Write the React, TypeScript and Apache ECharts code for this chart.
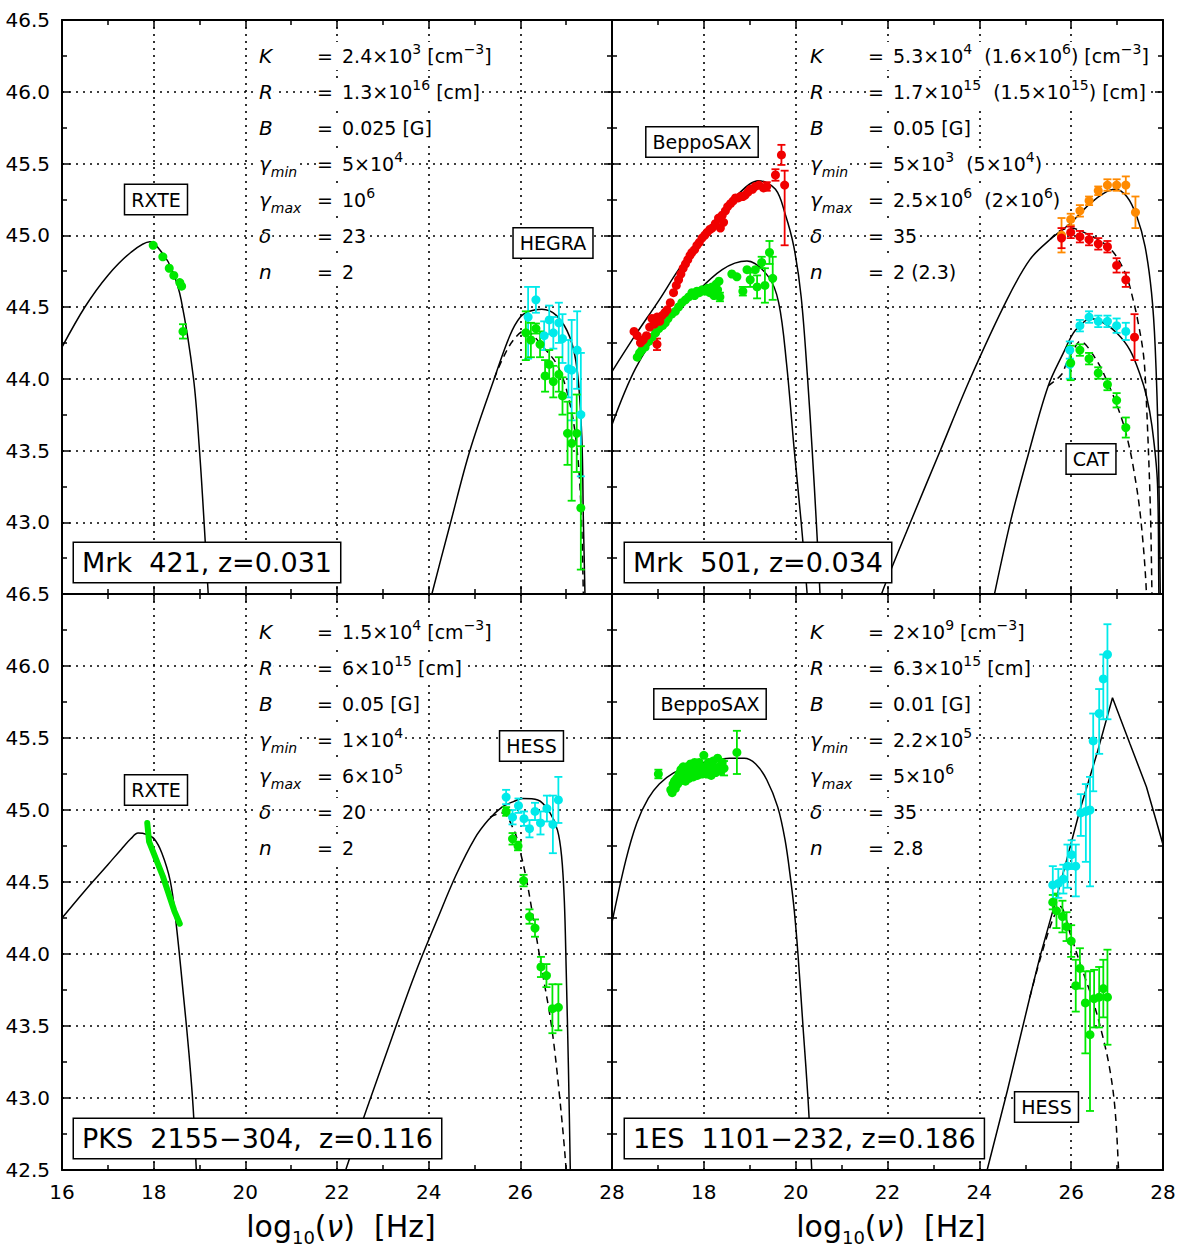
import React, { useEffect, useRef } from "react";
import * as echarts from "echarts";

const FONT = "DejaVu Sans";
const GREEN = "#00e800";
const CYAN = "#00eaea";
const RED = "#f00000";
const ORANGE = "#ff8a00";

// ---------------- axis ticks ----------------
const X_MIN = 16, X_MAX = 28, X_STEP = 2;
const Y_MIN = 42.5, Y_MAX = 46.5, Y_STEP = 0.5;

// ---------------- Panel 1: Mrk 421 ----------------
const mrk421Title = "Mrk  421, z=0.031";
const mrk421Labels = ["RXTE", "HEGRA"];
const mrk421Params = [
  ["K", "", "2.4×10^3^ [cm^−3^]"],
  ["R", "", "1.3×10^16^ [cm]"],
  ["B", "", "0.025 [G]"],
  ["γ", "min", "5×10^4^"],
  ["γ", "max", "10^6^"],
  ["δ", "", "23"],
  ["n", "", "2"],
];
const mrk421Sync = [[16.0,44.22],[16.5,44.5],[17.0,44.72],[17.5,44.88],[17.92,44.955],[18.2,44.87],[18.4,44.76],[18.6,44.55],[18.87,44.0],[19.0,43.5],[19.1,43.0],[19.19,42.5],[19.22,42.3]];
const mrk421Ssc = [[24.0,42.4],[24.07,42.5],[24.48,43.0],[24.9,43.5],[25.43,44.0],[25.77,44.3],[26.0,44.43],[26.2,44.47],[26.47,44.484],[26.79,44.44],[27.08,44.29],[27.24,44.06],[27.34,43.6],[27.375,43.02],[27.41,42.5],[27.42,42.3]];
const mrk421SscAbs = [[25.43,44.0],[25.6,44.13],[25.85,44.27],[26.1,44.335],[26.5,44.22],[26.83,44.08],[27.08,43.83],[27.23,43.53],[27.32,43.13],[27.375,42.5],[27.38,42.3]];
// [x, y, errLow, errHigh]
const mrk421Rxte = [[17.99,44.93,0,0],[18.2,44.85,0,0],[18.34,44.77,0,0],[18.44,44.72,0,0],[18.57,44.67,0,0],[18.61,44.645,0,0],[18.64,44.33,0.05,0.05]];
const mrk421HegraDeabs = [[26.17,44.43,0.29,0.21],[26.34,44.55,0.09,0.09],[26.52,44.3,0.1,0.1],[26.63,44.41,0.1,0.1],[26.72,44.32,0.11,0.11],[26.84,44.39,0.14,0.14],[26.92,44.28,0.17,0.17],[27.05,44.07,0.2,0.2],[27.12,44.06,0.35,0.35],[27.24,44.2,0.27,0.27],[27.32,43.75,0.43,0.43]];
const mrk421HegraObs = [[26.12,44.32,0.19,0.15],[26.23,44.27,0.12,0.12],[26.34,44.35,0.035,0.035],[26.43,44.24,0.09,0.09],[26.54,44.02,0.11,0.11],[26.63,44.1,0.1,0.1],[26.72,43.98,0.11,0.11],[26.84,44.03,0.12,0.12],[26.92,43.88,0.13,0.13],[27.03,43.62,0.22,0.22],[27.12,43.55,0.4,0.21],[27.23,43.62,0.27,0.27],[27.32,43.1,0.43,0.43]];

// ---------------- Panel 2: Mrk 501 ----------------
const mrk501Title = "Mrk  501, z=0.034";
const mrk501Labels = ["BeppoSAX", "CAT"];
const mrk501Params = [
  ["K", "", "5.3×10^4^  (1.6×10^6^) [cm^−3^]"],
  ["R", "", "1.7×10^15^  (1.5×10^15^) [cm]"],
  ["B", "", "0.05 [G]"],
  ["γ", "min", "5×10^3^  (5×10^4^)"],
  ["γ", "max", "2.5×10^6^  (2×10^6^)"],
  ["δ", "", "35"],
  ["n", "", "2 (2.3)"],
];
const mrk501SyncHigh = [[16.0,44.05],[16.5,44.3],[17.03,44.55],[17.45,44.76],[18.18,45.08],[18.76,45.29],[19.19,45.38],[19.56,45.32],[19.77,45.15],[19.96,44.92],[20.12,44.57],[20.26,44.0],[20.36,43.5],[20.45,43.0],[20.53,42.5],[20.55,42.3]];
const mrk501SyncLow = [[16.0,43.68],[16.51,44.07],[17.09,44.36],[17.68,44.55],[18.4,44.76],[18.94,44.82],[19.41,44.71],[19.63,44.53],[19.8,44.11],[19.97,43.5],[20.12,43.0],[20.25,42.5],[20.28,42.3]];
const mrk501SscHigh = [[21.8,42.4],[21.87,42.5],[22.5,43.0],[23.15,43.5],[23.8,44.0],[24.6,44.55],[25.1,44.83],[25.54,44.97],[25.97,45.08],[26.41,45.22],[26.7,45.29],[26.95,45.32],[27.21,45.27],[27.43,45.13],[27.61,44.92],[27.75,44.6],[27.83,44.22],[27.9,43.5],[27.94,42.5]];
const mrk501SscHighAbs = [[25.54,44.97],[25.75,45.03],[25.97,45.05],[26.41,45.0],[26.77,44.93],[26.99,44.85],[27.21,44.71],[27.35,44.55],[27.46,44.39],[27.57,44.18],[27.62,43.97],[27.72,43.15],[27.76,42.5],[27.77,42.3]];
const mrk501SscLow = [[24.28,42.4],[24.33,42.5],[24.69,43.02],[25.09,43.5],[25.5,43.95],[25.83,44.18],[26.05,44.32],[26.26,44.39],[26.41,44.42],[26.7,44.39],[26.99,44.32],[27.28,44.2],[27.5,44.03],[27.64,43.88],[27.76,43.67],[27.88,43.27],[27.91,42.5],[27.92,42.3]];
const mrk501SscLowAbs = [[25.5,43.95],[25.79,44.03],[25.9,44.11],[26.05,44.2],[26.19,44.26],[26.55,44.13],[26.84,43.94],[27.06,43.76],[27.21,43.6],[27.35,43.39],[27.51,43.04],[27.64,42.5],[27.65,42.3]];
const mrk501SaxHigh = [[16.48,44.33,0,0],[16.55,44.3,0,0],[16.62,44.25,0,0],[16.68,44.27,0,0],[16.75,44.3,0,0],[16.82,44.36,0,0],[16.87,44.42,0,0],[16.92,44.38,0,0],[16.98,44.43,0,0],[16.98,44.24,0.04,0.04],[17.04,44.4,0,0],[17.09,44.44,0,0],[17.15,44.46,0,0],[17.2,44.48,0,0],[17.27,44.53,0,0],[17.34,44.6,0,0],[17.4,44.65,0,0],[17.45,44.69,0,0],[17.5,44.73,0,0],[17.55,44.77,0,0],[17.6,44.8,0,0],[17.65,44.83,0,0],[17.7,44.86,0,0],[17.74,44.88,0,0],[17.8,44.9,0,0],[17.85,44.93,0,0],[17.9,44.95,0,0],[17.96,44.98,0,0],[18.02,45.0,0,0],[18.07,45.02,0,0],[18.13,45.04,0,0],[18.18,45.05,0,0],[18.25,45.08,0,0],[18.32,45.12,0,0],[18.36,45.05,0,0],[18.4,45.14,0,0],[18.43,45.09,0,0],[18.47,45.17,0,0],[18.52,45.2,0,0],[18.58,45.22,0,0],[18.64,45.24,0,0],[18.69,45.26,0,0],[18.75,45.26,0,0],[18.8,45.27,0,0],[18.85,45.27,0,0],[18.9,45.28,0,0],[18.96,45.3,0,0],[19.01,45.32,0,0],[19.06,45.32,0,0],[19.12,45.34,0,0],[19.2,45.35,0,0],[19.3,45.33,0,0],[19.37,45.34,0.03,0.03],[19.56,45.42,0.04,0.04],[19.69,45.56,0.07,0.07],[19.76,45.35,0.42,0.1]];
const mrk501SaxLow = [[16.55,44.15,0,0],[16.6,44.18,0,0],[16.65,44.2,0,0],[16.72,44.22,0,0],[16.8,44.26,0,0],[16.87,44.29,0,0],[16.95,44.32,0,0],[17.02,44.35,0,0],[17.1,44.37,0,0],[17.16,44.39,0,0],[17.22,44.42,0,0],[17.3,44.45,0,0],[17.38,44.47,0,0],[17.45,44.5,0,0],[17.52,44.53,0,0],[17.6,44.55,0,0],[17.67,44.57,0,0],[17.74,44.6,0,0],[17.8,44.58,0,0],[17.85,44.61,0,0],[17.9,44.6,0,0],[17.96,44.62,0,0],[18.02,44.61,0,0],[18.08,44.63,0,0],[18.13,44.6,0,0],[18.18,44.64,0,0],[18.22,44.58,0,0],[18.27,44.66,0,0],[18.3,44.62,0,0],[18.33,44.68,0,0],[18.35,44.57,0.03,0.03],[18.61,44.73,0,0],[18.72,44.71,0,0],[18.85,44.61,0.03,0.03],[18.94,44.76,0,0],[19.01,44.69,0.05,0.05],[19.12,44.76,0,0],[19.16,44.64,0.08,0.08],[19.26,44.81,0.04,0.04],[19.33,44.65,0.12,0.12],[19.43,44.88,0.08,0.08],[19.5,44.7,0.15,0.15]];
const mrk501TevHighDeabs = [[25.79,45.0,0.12,0.12],[25.99,45.11,0.04,0.04],[26.19,45.17,0.04,0.04],[26.39,45.24,0.03,0.03],[26.59,45.31,0.03,0.03],[26.79,45.35,0.04,0.04],[26.99,45.35,0.04,0.04],[27.19,45.35,0.06,0.06],[27.4,45.16,0.11,0.11]];
const mrk501TevHighObs = [[25.79,44.98,0.07,0.07],[25.99,45.02,0.04,0.04],[26.19,44.99,0.04,0.04],[26.39,44.97,0.04,0.04],[26.59,44.94,0.04,0.04],[26.79,44.92,0.04,0.04],[26.99,44.79,0.05,0.05],[27.19,44.69,0.05,0.05],[27.38,44.29,0.16,0.16]];
const mrk501CatDeabs = [[25.97,44.2,0.06,0.06],[25.97,44.1,0.1,0.1],[26.19,44.37,0.04,0.04],[26.39,44.43,0.04,0.04],[26.59,44.4,0.04,0.04],[26.79,44.4,0.04,0.04],[26.99,44.37,0.05,0.05],[27.19,44.33,0.06,0.06]];
const mrk501CatObs = [[25.99,44.11,0.12,0.12],[26.19,44.2,0.04,0.04],[26.39,44.14,0.04,0.04],[26.59,44.04,0.04,0.04],[26.79,43.96,0.04,0.04],[26.99,43.85,0.05,0.05],[27.19,43.66,0.07,0.07]];

// ---------------- Panel 3: PKS 2155-304 ----------------
const pksTitle = "PKS  2155−304,  z=0.116";
const pksLabels = ["RXTE", "HESS"];
const pksParams = [
  ["K", "", "1.5×10^4^ [cm^−3^]"],
  ["R", "", "6×10^15^ [cm]"],
  ["B", "", "0.05 [G]"],
  ["γ", "min", "1×10^4^"],
  ["γ", "max", "6×10^5^"],
  ["δ", "", "20"],
  ["n", "", "2"],
];
const pksSync = [[16.0,44.25],[16.5,44.44],[17.0,44.62],[17.3,44.73],[17.5,44.8],[17.66,44.84],[17.85,44.83],[18.01,44.8],[18.18,44.7],[18.36,44.51],[18.48,44.24],[18.66,43.68],[18.77,43.31],[18.86,42.94],[18.93,42.5],[18.95,42.3]];
const pksSsc = [[22.1,42.4],[22.19,42.5],[22.7,42.97],[23.2,43.42],[23.7,43.86],[24.2,44.25],[24.6,44.55],[25.0,44.8],[25.3,44.93],[25.6,45.02],[25.86,45.06],[26.05,45.08],[26.38,45.07],[26.63,44.99],[26.81,44.86],[26.9,44.68],[26.96,44.37],[27.0,43.9],[27.05,43.2],[27.09,42.5],[27.1,42.3]];
const pksSscAbs = [[25.34,44.95],[25.6,44.98],[25.86,44.86],[25.99,44.72],[26.12,44.54],[26.25,44.31],[26.46,43.91],[26.68,43.5],[26.85,43.03],[27.0,42.5],[27.02,42.3]];
const pksRxteBand = [[17.86,44.91],[17.9,44.78],[18.2,44.54],[18.45,44.3],[18.57,44.21]];
const pksHessDeabs = [[25.69,45.09,0.05,0.05],[25.83,44.95,0.05,0.05],[25.96,45.03,0.05,0.05],[26.08,44.94,0.05,0.05],[26.2,44.87,0.06,0.06],[26.32,44.99,0.06,0.06],[26.44,44.91,0.08,0.08],[26.58,45.01,0.09,0.09],[26.71,44.9,0.2,0.2],[26.83,45.07,0.16,0.16]];
const pksHessObs = [[25.69,44.99,0.03,0.03],[25.83,44.8,0.04,0.04],[25.95,44.75,0.03,0.03],[26.07,44.51,0.04,0.04],[26.2,44.26,0.05,0.05],[26.32,44.18,0.06,0.06],[26.45,43.91,0.07,0.07],[26.57,43.85,0.08,0.08],[26.7,43.62,0.17,0.17],[26.83,43.63,0.16,0.16]];

// ---------------- Panel 4: 1ES 1101-232 ----------------
const es1101Title = "1ES  1101−232, z=0.186";
const es1101Labels = ["BeppoSAX", "HESS"];
const es1101Params = [
  ["K", "", "2×10^9^ [cm^−3^]"],
  ["R", "", "6.3×10^15^ [cm]"],
  ["B", "", "0.01 [G]"],
  ["γ", "min", "2.2×10^5^"],
  ["γ", "max", "5×10^6^"],
  ["δ", "", "35"],
  ["n", "", "2.8"],
];
const es1101Sync = [[16.0,44.22],[16.3,44.65],[16.54,44.91],[16.79,45.08],[17.03,45.18],[17.35,45.26],[17.76,45.31],[18.16,45.34],[18.56,45.36],[18.88,45.36],[19.13,45.32],[19.37,45.21],[19.61,45.02],[19.77,44.79],[19.89,44.52],[19.97,44.3],[20.05,44.0],[20.17,43.45],[20.27,42.99],[20.35,42.5],[20.37,42.3]];
const es1101Ssc = [[24.1,42.4],[24.17,42.5],[24.61,43.05],[25.1,43.7],[25.32,43.98],[25.61,44.31],[25.9,44.65],[26.19,45.0],[26.56,45.39],[26.9,45.78],[27.28,45.46],[27.64,45.16],[28.0,44.76]];
const es1101SscAbs = [[25.1,43.7],[25.32,43.96],[25.6,44.24],[25.76,44.33],[25.98,44.14],[26.22,43.91],[26.47,43.68],[26.67,43.45],[26.83,43.22],[26.95,42.94],[27.03,42.52],[27.04,42.4]];
const es1101Sax = [[17.01,45.25,0.03,0.03],[17.28,45.14,0,0],[17.31,45.12,0,0],[17.33,45.18,0,0],[17.36,45.2,0,0],[17.38,45.15,0,0],[17.41,45.22,0,0],[17.43,45.18,0,0],[17.46,45.25,0,0],[17.48,45.2,0,0],[17.5,45.28,0,0],[17.53,45.22,0,0],[17.55,45.3,0,0],[17.58,45.25,0,0],[17.6,45.2,0,0],[17.63,45.3,0,0],[17.66,45.26,0,0],[17.68,45.22,0,0],[17.71,45.32,0,0],[17.74,45.27,0,0],[17.77,45.23,0,0],[17.8,45.33,0,0],[17.83,45.28,0,0],[17.86,45.24,0,0],[17.9,45.33,0,0],[17.93,45.28,0,0],[17.96,45.25,0,0],[18.0,45.38,0,0],[18.03,45.3,0,0],[18.06,45.25,0,0],[18.1,45.33,0,0],[18.13,45.28,0,0],[18.16,45.24,0,0],[18.2,45.34,0,0],[18.23,45.29,0,0],[18.26,45.26,0,0],[18.3,45.36,0,0],[18.33,45.3,0,0],[18.36,45.27,0,0],[18.4,45.33,0,0],[18.44,45.29,0.05,0.05],[18.72,45.4,0.15,0.15]];
const es1101HessDeabs = [[25.6,44.48,0.13,0.13],[25.72,44.49,0.1,0.1],[25.83,44.52,0.1,0.1],[25.92,44.61,0.15,0.15],[26.01,44.69,0.1,0.1],[26.1,44.61,0.21,0.15],[26.21,44.98,0.16,0.13],[26.32,44.99,0.35,0.19],[26.41,45.0,0.53,0.23],[26.48,45.48,0.35,0.19],[26.61,45.67,0.28,0.17],[26.7,45.91,0.28,0.17],[26.79,46.08,0.45,0.21]];
const es1101HessObs = [[25.6,44.36,0.05,0.05],[25.68,44.3,0.12,0.12],[25.81,44.26,0.11,0.11],[25.9,44.19,0.1,0.1],[26.0,44.09,0.11,0.11],[26.1,43.78,0.18,0.18],[26.19,43.9,0.14,0.14],[26.31,43.66,0.35,0.22],[26.41,43.44,0.53,0.44],[26.5,43.69,0.2,0.2],[26.61,43.7,0.21,0.21],[26.7,43.76,0.2,0.2],[26.79,43.7,0.33,0.33]];

// ---------------- panel assembly ----------------
const PANELS: any[] = [
  {
    title: mrk421Title, labels: mrk421Labels, params: mrk421Params,
    curves: [{ data: mrk421Sync }, { data: mrk421Ssc }, { data: mrk421SscAbs, dashed: true }],
    bands: [],
    points: [{ data: mrk421Rxte, color: GREEN }, { data: mrk421HegraDeabs, color: CYAN }, { data: mrk421HegraObs, color: GREEN }],
  },
  {
    title: mrk501Title, labels: mrk501Labels, params: mrk501Params,
    curves: [{ data: mrk501SyncHigh }, { data: mrk501SyncLow }, { data: mrk501SscHigh }, { data: mrk501SscHighAbs, dashed: true }, { data: mrk501SscLow }, { data: mrk501SscLowAbs, dashed: true }],
    bands: [],
    points: [{ data: mrk501SaxLow, color: GREEN }, { data: mrk501SaxHigh, color: RED }, { data: mrk501TevHighDeabs, color: ORANGE }, { data: mrk501TevHighObs, color: RED }, { data: mrk501CatDeabs, color: CYAN }, { data: mrk501CatObs, color: GREEN }],
  },
  {
    title: pksTitle, labels: pksLabels, params: pksParams,
    curves: [{ data: pksSync }, { data: pksSsc }, { data: pksSscAbs, dashed: true }],
    bands: [{ data: pksRxteBand, color: GREEN }],
    points: [{ data: pksHessDeabs, color: CYAN }, { data: pksHessObs, color: GREEN }],
  },
  {
    title: es1101Title, labels: es1101Labels, params: es1101Params,
    curves: [{ data: es1101Sync }, { data: es1101Ssc, sharp: true }, { data: es1101SscAbs, dashed: true }],
    bands: [],
    points: [{ data: es1101Sax, color: GREEN }, { data: es1101HessObs, color: GREEN }, { data: es1101HessDeabs, color: CYAN }],
  },
];

// ---------------- layout (pixels) ----------------
const GRIDS = [
  { left: 62, top: 20, width: 550, height: 574 },
  { left: 612, top: 20, width: 551, height: 574 },
  { left: 62, top: 594, width: 550, height: 576 },
  { left: 612, top: 594, width: 551, height: 576 },
];
const PARAM_X = [[258, 316, 333], [809, 867, 884], [258, 316, 333], [809, 867, 884]];
const PARAM_Y0 = [56, 56, 632, 632];
const PARAM_DY = 36;
const LABEL_POS = [
  [[156, 199.5], [553, 243]],
  [[702, 142], [1091, 459]],
  [[156, 790], [531.5, 746]],
  [[710, 704], [1046.5, 1107]],
];
const TITLE_POS = [[74, 562.5], [625, 562.5], [74, 1138.5], [625, 1138.5]];
const XTITLE_POS = [[341, 1226], [891, 1226]];

function richValue(s: string) {
  return s.split("^").map((seg, k) => (seg ? `{${k % 2 ? "sup" : "v"}|${seg}}` : "")).join("");
}

const PARAM_RICH = {
  v: { fontSize: 19, fontFamily: FONT, fill: "#000", lineHeight: 28 },
  sup: { fontSize: 14, fontFamily: FONT, fill: "#000", lineHeight: 13, verticalAlign: "top" },
  it: { fontSize: 20, fontFamily: FONT, fontStyle: "italic", fill: "#000", lineHeight: 30 },
  sub: { fontSize: 14, fontFamily: FONT, fontStyle: "italic", fill: "#000", lineHeight: 14, verticalAlign: "bottom" },
};

function errorRender(color: string) {
  return (params: any, api: any) => {
    const x = api.value(0), y = api.value(1), lo = api.value(2), hi = api.value(3);
    const top = api.coord([x, y + hi]);
    const bot = api.coord([x, y - lo]);
    const c = 4;
    const st = { stroke: color, lineWidth: 1.8 };
    return {
      type: "group",
      children: [
        { type: "line", shape: { x1: top[0], y1: top[1], x2: bot[0], y2: bot[1] }, style: st },
        { type: "line", shape: { x1: top[0] - c, y1: top[1], x2: top[0] + c, y2: top[1] }, style: st },
        { type: "line", shape: { x1: bot[0] - c, y1: bot[1], x2: bot[0] + c, y2: bot[1] }, style: st },
      ],
    };
  };
}

function buildOption() {
  const tickStyle = { color: "#000", width: 1.5 };
  const xAxis: any[] = [];
  const yAxis: any[] = [];
  GRIDS.forEach((_, i) => {
    const base = {
      type: "value", gridIndex: i,
      axisLine: { show: true, onZero: false, lineStyle: { color: "#000", width: 2 } },
      axisTick: { show: true, inside: true, length: 8, lineStyle: tickStyle },
      minorTick: { show: true, splitNumber: 2, length: 5, lineStyle: tickStyle },
    };
    xAxis.push({
      ...base, position: "bottom", min: X_MIN, max: X_MAX, interval: X_STEP,
      splitLine: { show: true, lineStyle: { color: "#000", width: 1.6, type: [2, 5] } },
      axisLabel: {
        show: i >= 2, showMinLabel: i === 2, showMaxLabel: true, margin: 12, hideOverlap: false,
        fontSize: 20, fontFamily: FONT, color: "#000", formatter: (v: number) => String(v),
      },
    });
    xAxis.push({
      ...base, position: "top", min: X_MIN, max: X_MAX, interval: X_STEP,
      splitLine: { show: false }, axisLabel: { show: false },
    });
    yAxis.push({
      ...base, position: "left", min: Y_MIN, max: Y_MAX, interval: Y_STEP,
      splitLine: { show: true, lineStyle: { color: "#000", width: 1.6, type: [2, 5] } },
      axisLabel: {
        show: i % 2 === 0, showMinLabel: i === 2, showMaxLabel: true, margin: 12, hideOverlap: false,
        fontSize: 20, fontFamily: FONT, color: "#000", formatter: (v: number) => v.toFixed(1),
      },
    });
    yAxis.push({
      ...base, position: "right", min: Y_MIN, max: Y_MAX, interval: Y_STEP,
      splitLine: { show: false }, axisLabel: { show: false },
    });
  });

  const series: any[] = [];
  PANELS.forEach((p, i) => {
    const ax = { xAxisIndex: 2 * i, yAxisIndex: 2 * i };
    p.curves.forEach((c: any) => {
      series.push({
        type: "line", ...ax, data: c.data, showSymbol: false, symbol: "none", silent: true,
        smooth: c.sharp ? false : 0.35, clip: true, z: 3,
        lineStyle: { color: "#000", width: 1.5, type: c.dashed ? [7, 5] : "solid" },
      });
    });
    p.bands.forEach((b: any) => {
      series.push({
        type: "line", ...ax, data: b.data, showSymbol: false, symbol: "none", silent: true,
        clip: true, z: 4, lineStyle: { color: b.color, width: 6, cap: "round" },
      });
    });
    p.points.forEach((s: any) => {
      const withErr = s.data.filter((d: number[]) => d[2] > 0 || d[3] > 0);
      if (withErr.length) {
        series.push({
          type: "custom", ...ax, coordinateSystem: "cartesian2d", silent: true, z: 4,
          dimensions: ["x", "y", "lo", "hi"], encode: { x: 0, y: 1 },
          data: withErr, renderItem: errorRender(s.color),
        });
      }
      series.push({
        type: "scatter", ...ax, silent: true, z: 5, symbol: "circle", symbolSize: 9,
        itemStyle: { color: s.color, opacity: 1 },
        data: s.data.map((d: number[]) => [d[0], d[1]]),
      });
    });
  });

  const graphic: any[] = [];
  const txt = (x: number, y: number, style: any) => ({ type: "text", x, y, z: 100, silent: true, style });
  PANELS.forEach((p, i) => {
    p.params.forEach((row: string[], r: number) => {
      const y = PARAM_Y0[i] + r * PARAM_DY;
      const [sx, ex, vx] = PARAM_X[i];
      graphic.push(txt(sx, y, {
        text: `{it|${row[0]}}` + (row[1] ? `{sub|${row[1]}}` : ""), rich: PARAM_RICH,
        align: "left", verticalAlign: "middle", backgroundColor: "#fff", padding: [0, 1],
      }));
      graphic.push(txt(vx, y, {
        text: richValue(row[2]), rich: PARAM_RICH, align: "left", verticalAlign: "middle",
        backgroundColor: "#fff", padding: [0, 2, 0, 9],
      }));
      graphic.push(txt(ex, y, {
        text: "{v|=}", rich: PARAM_RICH, align: "left", verticalAlign: "middle",
        backgroundColor: "#fff", padding: [0, 1],
      }));
    });
    p.labels.forEach((lab: string, k: number) => {
      const [x, y] = LABEL_POS[i][k];
      graphic.push(txt(x, y, {
        text: lab, fontSize: 19, fontFamily: FONT, fill: "#000", lineHeight: 21,
        align: "center", verticalAlign: "middle", backgroundColor: "#fff",
        borderColor: "#000", borderWidth: 1.5, padding: [4, 6],
      }));
    });
    const [tx, ty] = TITLE_POS[i];
    graphic.push(txt(tx, ty, {
      text: p.title, fontSize: 27, fontFamily: FONT, fill: "#000", lineHeight: 29,
      align: "left", verticalAlign: "middle", backgroundColor: "#fff",
      borderColor: "#000", borderWidth: 1.5, padding: [5, 8],
    }));
  });
  XTITLE_POS.forEach(([x, y]) => {
    graphic.push(txt(x, y, {
      text: "{t|log}{s|10}{t|(}{nu|ν}{t|)  [Hz]}",
      rich: {
        t: { fontSize: 30, fontFamily: FONT, fill: "#000", lineHeight: 40 },
        nu: { fontSize: 30, fontFamily: FONT, fontStyle: "italic", fill: "#000", lineHeight: 40 },
        s: { fontSize: 18, fontFamily: FONT, fill: "#000", lineHeight: 18, verticalAlign: "bottom" },
      },
      align: "center", verticalAlign: "middle",
    }));
  });

  return {
    animation: false,
    backgroundColor: "#fff",
    grid: GRIDS.map((g) => ({ ...g, containLabel: false, outerBoundsMode: "none" })),
    xAxis, yAxis, series, graphic,
  };
}

export default function App() {
  const ref = useRef<HTMLDivElement>(null);
  useEffect(() => {
    const chart = echarts.init(ref.current as HTMLDivElement, null, { renderer: "svg" });
    chart.setOption(buildOption() as any);
    return () => chart.dispose();
  }, []);
  return (
    <div
      ref={ref}
      style={{ position: "absolute", left: 0, top: 0, width: 1181, height: 1246, background: "#fff" }}
    />
  );
}
